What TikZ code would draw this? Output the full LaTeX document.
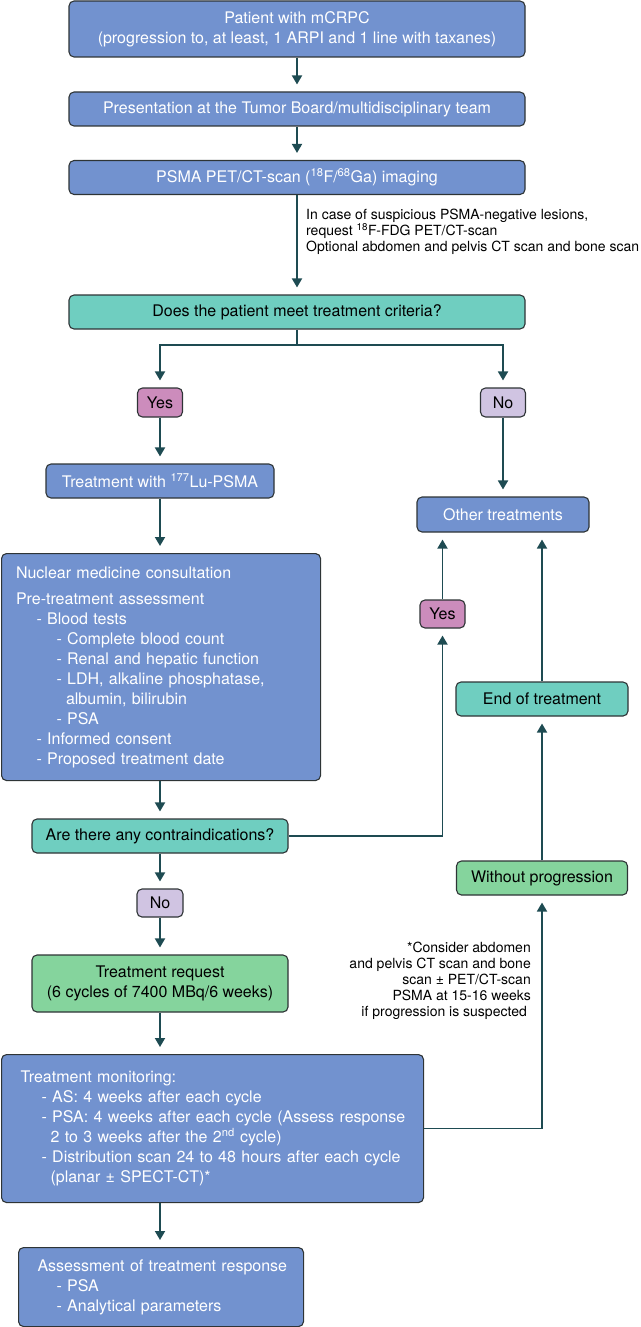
\documentclass[tikz,border=0pt]{standalone}
\usepackage{fontspec}
\setmainfont{TeX Gyre Heros}
\usetikzlibrary{arrows.meta}
\definecolor{bluef}{HTML}{7292CF}
\definecolor{tealf}{HTML}{6FCEC0}
\definecolor{greenf}{HTML}{85D49D}
\definecolor{pinkf}{HTML}{CC8CBC}
\definecolor{lavf}{HTML}{D0C4E2}
\definecolor{edgec}{HTML}{2E3436}
\definecolor{arrc}{HTML}{1E4B52}
\begin{document}
\begin{tikzpicture}[x=1pt,y=-1pt,
  box/.style={draw=edgec, line width=1.1pt, rounded corners=5pt, inner sep=0pt,
    font=\fontsize{16}{20}\selectfont, align=center},
  bluebox/.style={box, fill=bluef, text=white},
  tealbox/.style={box, fill=tealf, text=black},
  greenbox/.style={box, fill=greenf, text=black},
  yesbox/.style={box, fill=pinkf, text=black},
  nobox/.style={box, fill=lavf, text=black},
  note/.style={inner sep=0pt, font=\fontsize{14}{16}\selectfont, text=black},
  conn/.style={draw=arrc, line width=1.8pt},
  arr/.style={conn, -{Triangle[width=10pt,length=9pt]}, shorten >=7pt}
]
\useasboundingbox (0,0) rectangle (640,1327);

% top column
\node[bluebox, minimum width=456pt, minimum height=56pt] (pat) at (297,29)
  {Patient with mCRPC\\(progression to, at least, 1 ARPI and 1 line with taxanes)};
\node[bluebox, minimum width=456pt, minimum height=34pt] (tb) at (297,109)
  {Presentation at the Tumor Board/multidisciplinary team};
\node[bluebox, minimum width=456pt, minimum height=34pt] (pet) at (297,177.5)
  {PSMA PET/CT-scan (\textsuperscript{18}F/\textsuperscript{68}Ga) imaging};
\node[note, anchor=north west, align=left] (petnote) at (306,209)
  {In case of suspicious PSMA-negative lesions,\\request \textsuperscript{18}F-FDG PET/CT-scan\\Optional abdomen and pelvis CT scan and bone scan};
\node[tealbox, minimum width=456pt, minimum height=34pt] (crit) at (297,312)
  {Does the patient meet treatment criteria?};

\node[yesbox, minimum width=45pt, minimum height=29pt] (yes1) at (160,402.5) {Yes};
\node[nobox, minimum width=45pt, minimum height=29pt] (no1) at (503,402.5) {No};
\node[bluebox, minimum width=228pt, minimum height=34pt] (lu) at (160,481)
  {Treatment with \textsuperscript{177}Lu-PSMA};
\node[bluebox, minimum width=172pt, minimum height=35pt] (other) at (503,514.5)
  {Other treatments};

\node[bluebox, anchor=north west, minimum width=319pt, minimum height=227pt,
  text width=290pt, inner xsep=14.5pt, align=left] (nuc) at (1,553)
  {Nuclear medicine consultation\\[6pt]
   Pre-treatment assessment\\
   \hspace*{20.5pt}- Blood tests\\
   \hspace*{40.5pt}- Complete blood count\\
   \hspace*{40.5pt}- Renal and hepatic function\\
   \hspace*{40.5pt}- LDH, alkaline phosphatase,\\
   \hspace*{50pt}albumin, bilirubin\\
   \hspace*{40.5pt}- PSA\\
   \hspace*{20.5pt}- Informed consent\\
   \hspace*{20.5pt}- Proposed treatment date};

\node[tealbox, minimum width=256pt, minimum height=34pt] (contra) at (160,836)
  {Are there any contraindications?};
\node[yesbox, minimum width=45pt, minimum height=28pt] (yes2) at (442.5,614) {Yes};
\node[tealbox, minimum width=172pt, minimum height=34pt] (end) at (542,699)
  {End of treatment};
\node[greenbox, minimum width=171pt, minimum height=34pt] (wop) at (542,878)
  {Without progression};
\node[note, anchor=north east, align=right] (fn) at (531,942)
  {*Consider abdomen\\and pelvis CT scan and bone\\scan ± PET/CT-scan\\PSMA at 15-16 weeks\\if progression is suspected\hspace*{4pt}};

\node[nobox, minimum width=46pt, minimum height=28pt] (no2) at (160,903) {No};
\node[greenbox, minimum width=256pt, minimum height=57pt] (req) at (160,983.5)
  {Treatment request\\(6 cycles of 7400 MBq/6 weeks)};

\node[bluebox, anchor=north west, minimum width=422pt, minimum height=148pt,
  text width=384pt, inner xsep=19pt, align=left] (mon) at (1,1054)
  {Treatment monitoring:\\
   \hspace*{21pt}- AS: 4 weeks after each cycle\\
   \hspace*{21pt}\mbox{- PSA: 4 weeks after each cycle (Assess response}\\
   \hspace*{30pt}2 to 3 weeks after the 2\textsuperscript{nd} cycle)\\
   \hspace*{21pt}\mbox{- Distribution scan 24 to 48 hours after each cycle}\\
   \hspace*{30pt}(planar ± SPECT-CT)*};

\node[bluebox, anchor=north west, minimum width=285pt, minimum height=79pt,
  text width=247pt, inner xsep=19pt, align=left] (assess) at (18,1247)
  {\mbox{Assessment of treatment response}\\
   \hspace*{19pt}- PSA\\
   \hspace*{19pt}- Analytical parameters};

% connectors
\draw[arr] (pat) -- (tb);
\draw[arr] (tb) -- (pet);
\draw[arr] (pet) -- (crit);
\coordinate (sp) at (297,345);
\draw[conn] (crit.south) -- (sp);
\draw[arr] (sp) -| (yes1.north);
\draw[arr] (sp) -| (no1.north);
\draw[arr] (yes1) -- (lu);
\draw[arr] (no1) -- (other);
\draw[arr] (lu.south) -- (lu.south |- nuc.north);
\draw[arr] (contra.north |- nuc.south) -- (contra.north);
\draw[arr] (contra.east) -| (yes2.south);
\draw[arr] (yes2.north) -- (yes2.north |- other.south);
\draw[arr] (end.north) -- (end.north |- other.south);
\draw[arr] (wop) -- (end);
\draw[arr] (contra) -- (no2);
\draw[arr] (no2) -- (req);
\draw[arr] (req.south) -- (req.south |- mon.north);
\draw[arr] (mon.east) -| (wop.south);
\draw[arr] (req.south |- mon.south) -- (req.south |- assess.north);
\end{tikzpicture}
\end{document}
